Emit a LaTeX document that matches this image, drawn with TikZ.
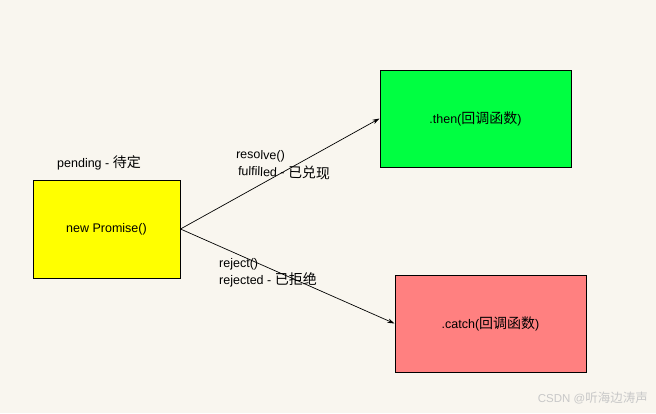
\documentclass[tikz,border=0pt]{standalone}
\usepackage{fontspec}
\setmainfont{Liberation Sans}
\newfontfamily\cjk{Noto Sans CJK SC}
\usetikzlibrary{arrows.meta,positioning}
\definecolor{paper}{HTML}{F9F6EF}
\definecolor{pyellow}{HTML}{FFFF00}
\definecolor{pgreen}{HTML}{00FF41}
\definecolor{pred}{HTML}{FF8080}
\definecolor{mark}{HTML}{C8C8C8}
\newcommand{\zh}[1]{{\cjk\fontsize{14}{16}\selectfont #1}}
\tikzset{
 statebox/.style={draw,line width=1pt,minimum width=147pt,minimum height=98pt,inner sep=0pt},
 cbbox/.style={draw,line width=1pt,minimum width=191pt,minimum height=97pt,inner sep=0pt},
 lbl/.style={anchor=west,inner sep=0pt}}

\begin{document}
\begin{tikzpicture}[x=1pt,y=-1pt,>={Stealth[length=7pt,width=4.5pt]},font=\fontsize{12.5}{15}\selectfont]
\fill[paper] (0,0) rectangle (656,413);
\useasboundingbox (0,0) rectangle (656,413);
% boxes
\node[statebox,fill=pyellow] (promise) at (106.5,229) {new Promise()};
\node[cbbox,fill=pgreen] (thenbox) at (475.5,118.5) {.then(\zh{回调函数})};
\node[cbbox,fill=pred] (catchbox) at (490.5,323.5) {.catch(\zh{回调函数})};
% state labels
\node[lbl] (pending) at (57,163) {pending - \zh{待定}};
\node[lbl,rotate=-2] (resolve) at (236,155) {resolve()};
\node[lbl,rotate=-2] (fulfilled) at (238,170) {fulfilled - \zh{已兑现}};
\node[lbl] (reject) at (219,264) {reject()};
\node[lbl] (rejected) at (219,280) {rejected - \zh{已拒绝}};
% arrows
\draw[->,line width=0.7pt] (promise.east) -- (thenbox.west);
\draw[->,line width=0.7pt] (promise.east) -- (catchbox.west);
\node[anchor=east,inner sep=0pt,text=mark,font=\fontsize{11.5}{14}\selectfont] (csdn) at (648,398) {CSDN @\zh{\fontsize{12.5}{14}\selectfont 听海边涛声}};
\end{tikzpicture}
\end{document}
